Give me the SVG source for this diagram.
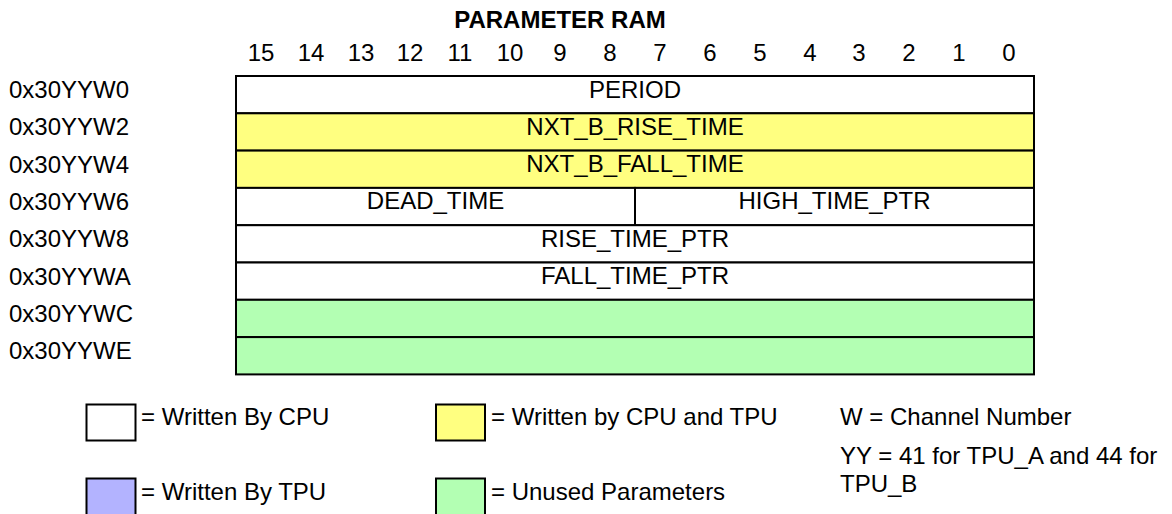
<svg xmlns="http://www.w3.org/2000/svg" width="1172" height="514" viewBox="0 0 1172 514">
<style>
  text { font-family: "Liberation Sans", Arial, Helvetica, sans-serif; font-size: 24px; fill: #000; }
  .title { font-weight: bold; text-anchor: middle; }
  .bit { text-anchor: middle; }
  .mid { text-anchor: middle; }
  .cell { stroke: #000; stroke-width: 2; }
  .w { fill: #ffffff; }
  .y { fill: #ffff80; }
  .g { fill: #b3ffb3; }
  .b { fill: #b3b3ff; }
</style>
<rect x="0" y="0" width="1172" height="514" fill="#ffffff"/>
<g id="title">
  <text class="title" x="560" y="28">PARAMETER RAM</text>
</g>
<g id="bit-numbers">
  <text class="bit" x="261" y="61">15</text>
  <text class="bit" x="311" y="61">14</text>
  <text class="bit" x="361" y="61">13</text>
  <text class="bit" x="410" y="61">12</text>
  <text class="bit" x="460" y="61">11</text>
  <text class="bit" x="510" y="61">10</text>
  <text class="bit" x="560" y="61">9</text>
  <text class="bit" x="610" y="61">8</text>
  <text class="bit" x="660" y="61">7</text>
  <text class="bit" x="710" y="61">6</text>
  <text class="bit" x="760" y="61">5</text>
  <text class="bit" x="810" y="61">4</text>
  <text class="bit" x="859" y="61">3</text>
  <text class="bit" x="909" y="61">2</text>
  <text class="bit" x="959" y="61">1</text>
  <text class="bit" x="1009" y="61">0</text>
</g>
<g id="addresses">
  <text x="9" y="98">0x30YYW0</text>
  <text x="9" y="135.3">0x30YYW2</text>
  <text x="9" y="172.6">0x30YYW4</text>
  <text x="9" y="209.9">0x30YYW6</text>
  <text x="9" y="247.2">0x30YYW8</text>
  <text x="9" y="284.5">0x30YYWA</text>
  <text x="9" y="321.8">0x30YYWC</text>
  <text x="9" y="359.1">0x30YYWE</text>
</g>
<g id="row-period">
  <rect class="cell w" x="236" y="76" width="798" height="37.3"/>
  <text class="mid" x="635" y="97.5">PERIOD</text>
</g>
<g id="row-nxt-b-rise-time">
  <rect class="cell y" x="236" y="113.3" width="798" height="37.3"/>
  <text class="mid" x="635" y="134.8">NXT_B_RISE_TIME</text>
</g>
<g id="row-nxt-b-fall-time">
  <rect class="cell y" x="236" y="150.6" width="798" height="37.3"/>
  <text class="mid" x="635" y="172.1">NXT_B_FALL_TIME</text>
</g>
<g id="row-dead-time">
  <rect class="cell w" x="236" y="187.9" width="399" height="37.3"/>
  <text class="mid" x="435.5" y="209.4">DEAD_TIME</text>
</g>
<g id="row-high-time-ptr">
  <rect class="cell w" x="635" y="187.9" width="399" height="37.3"/>
  <text class="mid" x="834.5" y="209.4">HIGH_TIME_PTR</text>
</g>
<g id="row-rise-time-ptr">
  <rect class="cell w" x="236" y="225.2" width="798" height="37.3"/>
  <text class="mid" x="635" y="246.7">RISE_TIME_PTR</text>
</g>
<g id="row-fall-time-ptr">
  <rect class="cell w" x="236" y="262.5" width="798" height="37.3"/>
  <text class="mid" x="635" y="284">FALL_TIME_PTR</text>
</g>
<g id="row-unused-c">
  <rect class="cell g" x="236" y="299.8" width="798" height="37.3"/>
</g>
<g id="row-unused-e">
  <rect class="cell g" x="236" y="337.1" width="798" height="37.3"/>
</g>
<g id="legend-cpu">
  <rect class="cell w" x="86.5" y="404.5" width="49" height="36"/>
  <text x="141" y="425">= Written By CPU</text>
</g>
<g id="legend-cpu-tpu">
  <rect class="cell y" x="436" y="404.5" width="49" height="36"/>
  <text x="491" y="425">= Written by CPU and TPU</text>
</g>
<g id="legend-tpu">
  <rect class="cell b" x="86.5" y="478.5" width="49" height="40"/>
  <text x="141" y="500">= Written By TPU</text>
</g>
<g id="legend-unused">
  <rect class="cell g" x="436" y="478.5" width="49" height="40"/>
  <text x="491" y="500">= Unused Parameters</text>
</g>
<g id="notes">
  <text x="840" y="425">W = Channel Number</text>
  <text x="840" y="464">YY = 41 for TPU_A and 44 for</text>
  <text x="840" y="492">TPU_B</text>
</g>
</svg>
